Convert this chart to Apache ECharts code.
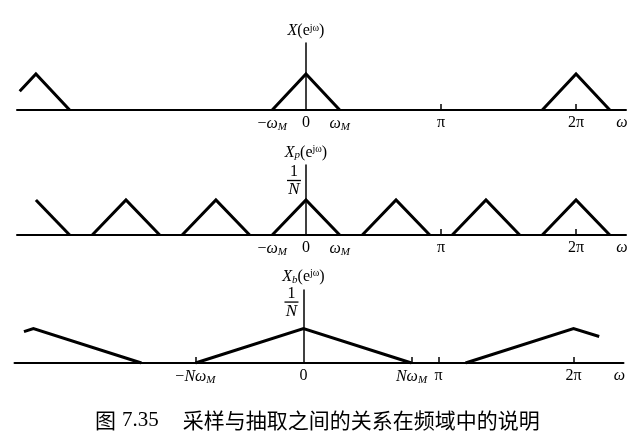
<!DOCTYPE html>
<html>
<head>
<meta charset="utf-8">
<script src="https://cdn.jsdelivr.net/npm/echarts@6/dist/echarts.min.js"></script>
<style>
  html, body { margin: 0; padding: 0; background: #fff; }
  #chart { width: 638px; height: 443px; }
</style>
</head>
<body>
<div id="chart"></div>
<script>
// frequency in units of pi, magnitude in units of 1/N (peak = 1)
// panel 1: X(e^jw), original spectrum, period 2pi
const segments1 = [
  [[-2.12, 0.52], [-2, 1], [-1.75, 0]],
  [[-0.25, 0], [0, 1], [0.25, 0]],
  [[1.75, 0], [2, 1], [2.25, 0]]
];
// panel 2: Xp(e^jw), sampled with N = 3 (copies every 2pi/3)
const segments2 = [
  [[-2, 1], [-1.75, 0]],
  [[-1.583, 0], [-1.333, 1], [-1.083, 0]],
  [[-0.917, 0], [-0.667, 1], [-0.417, 0]],
  [[-0.25, 0], [0, 1], [0.25, 0]],
  [[0.417, 0], [0.667, 1], [0.917, 0]],
  [[1.083, 0], [1.333, 1], [1.583, 0]],
  [[1.75, 0], [2, 1], [2.25, 0]]
];
// panel 3: Xb(e^jw), decimated, spectrum stretched to N*wM
const segments3 = [
  [[-2.07, 0.91], [-2, 1], [-1.2, 0]],
  [[-0.8, 0], [0, 1], [0.8, 0]],
  [[1.2, 0], [2, 1], [2.19, 0.77]]
];

// tick labels under each axis
const tickValues1 = [-0.25, 0, 0.25, 1, 2];
const tickLabels1 = ['{n|−}{i|ω}{s|M}', '{n|0}', '{i|ω}{s|M}', '{n|π}', '{n|2π}'];
const tickMarks1 = [1, 2];

const tickValues2 = [-0.25, 0, 0.25, 1, 2];
const tickLabels2 = ['{n|−}{i|ω}{s|M}', '{n|0}', '{i|ω}{s|M}', '{n|π}', '{n|2π}'];
const tickMarks2 = [1, 2];

const tickValues3 = [-0.8, 0, 0.8, 1, 2];
const tickLabels3 = ['{n|−}{i|Nω}{s|M}', '{n|0}', '{i|Nω}{s|M}', '{n|π}', '{n|2π}'];
const tickMarks3 = [-0.8, 0.8, 1, 2];

// value labels on the vertical axes (panel 1 has none)
const yLabelValues = [[], [1], [1]];
const yNames = [
  '{i|X}{n|(e}{sup|jω}{n|)}',
  '{i|X}{sb|p}{n|(e}{sup|jω}{n|)}',
  '{i|X}{sb|b}{n|(e}{sup|jω}{n|)}'
];
const peakLabel = '{num|1}\n{bar|}\n{den|N}';
const caption = ['图', '7.35', '采样与抽取之间的关系在频域中的说明'];

const serif = '"Liberation Serif", "DejaVu Serif", serif';
const rich = {
  n: { fontFamily: serif, fontSize: 16, color: '#000' },
  i: { fontFamily: serif, fontSize: 16, fontStyle: 'italic', color: '#000' },
  s: { fontFamily: serif, fontSize: 11, fontStyle: 'italic', color: '#000', verticalAlign: 'bottom', padding: [7, 0, 0, 0] },
  sb: { fontFamily: serif, fontSize: 11, fontStyle: 'italic', color: '#000', verticalAlign: 'bottom', padding: [6, 0, 0, 0] },
  sup: { fontFamily: serif, fontSize: 10, color: '#000', verticalAlign: 'top', padding: [0, 0, 6, 0] },
  num: { fontFamily: serif, fontSize: 16, color: '#000', align: 'center', lineHeight: 14 },
  bar: { width: 14, height: 1.3, lineHeight: 3, backgroundColor: '#000' },
  den: { fontFamily: serif, fontSize: 17, fontStyle: 'italic', color: '#000', align: 'center', lineHeight: 16 }
};

const grids = [
  { left: 17, width: 609, top: 43, height: 67 },
  { left: 17, width: 609, top: 165, height: 70 },
  { left: 14.5, width: 609, top: 290, height: 73 }
];
const yMax = [1.86, 2, 2.12];
const fracPad = [2, 2, 9];
const xMin = -2.14, xMax = 2.37;

const tickSets = [
  [tickValues1, tickLabels1, tickMarks1],
  [tickValues2, tickLabels2, tickMarks2],
  [tickValues3, tickLabels3, tickMarks3]
];

const xAxes = tickSets.map(([vals, labels, marks], k) => ({
  type: 'value', gridIndex: k, min: xMin, max: xMax,
  splitLine: { show: false },
  axisLine: { lineStyle: { color: '#000', width: 2 } },
  axisTick: { show: true, inside: true, length: 6, customValues: marks, lineStyle: { color: '#000', width: 1.5 } },
  axisLabel: {
    customValues: vals, margin: 5, rich: rich,
    formatter: v => labels[vals.indexOf(v)] || ''
  },
  name: '{i|ω}', nameLocation: 'end', nameGap: -4,
  nameTextStyle: { rich: rich, align: 'center', verticalAlign: 'top', padding: [5, 0, 0, 0] }
}));

// the vertical axis stands at w = 0: shift it in from the grid's left edge
const yAxes = yNames.map((nm, k) => ({
  type: 'value', gridIndex: k, min: 0, max: yMax[k],
  position: 'left',
  offset: -(0 - xMin) / (xMax - xMin) * grids[k].width,
  splitLine: { show: false },
  axisLine: { onZero: false, lineStyle: { color: '#000', width: 1.5 } },
  axisTick: { show: false },
  axisLabel: {
    customValues: yLabelValues[k], margin: 5, rich: rich,
    verticalAlign: 'bottom', padding: [0, 0, fracPad[k], 0],
    formatter: () => peakLabel
  },
  name: nm, nameLocation: 'end', nameGap: 4,
  nameTextStyle: { rich: rich, align: 'center' }
}));

const series = [];
[segments1, segments2, segments3].forEach((segs, k) => {
  segs.forEach(seg => {
    series.push({
      type: 'line', xAxisIndex: k, yAxisIndex: k, data: seg,
      showSymbol: false, silent: true, animation: false,
      lineStyle: { color: '#000', width: 3, join: 'miter' }
    });
  });
});

const chart = echarts.init(document.getElementById('chart'), null, { renderer: 'canvas' });
chart.setOption({
  animation: false,
  backgroundColor: '#fff',
  grid: grids,
  xAxis: xAxes,
  yAxis: yAxes,
  series: series,
  title: {
    left: 90, top: 405,
    text: '{c|' + caption[0] + '}{d|' + caption[1] + '}{g|}{c|' + caption[2] + '}',
    textStyle: {
      fontWeight: 'normal',
      rich: {
        c: { fontFamily: '"Noto Sans CJK SC"', fontSize: 21, fontWeight: 'normal', color: '#000' },
        d: { fontFamily: serif, fontSize: 21, fontWeight: 'normal', color: '#000', padding: [0, 0, 0, 6] },
        g: { width: 24 }
      }
    }
  }
});
</script>
</body>
</html>
